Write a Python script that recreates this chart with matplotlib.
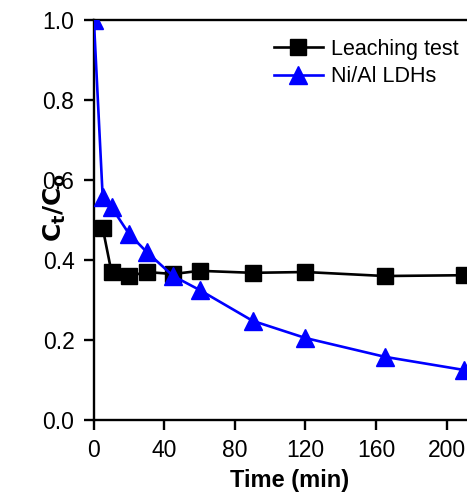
import matplotlib
matplotlib.use("Agg")
import matplotlib.pyplot as plt

plt.rcParams['font.family'] = ['Liberation Sans', 'DejaVu Sans']

time_leach = [5, 10, 20, 30, 45, 60, 90, 120, 165, 210]
ct_leach = [0.48, 0.37, 0.36, 0.37, 0.365, 0.373, 0.368, 0.37, 0.36, 0.362]

time_ldh = [0, 5, 10, 20, 30, 45, 60, 90, 120, 165, 210]
ct_ldh = [1.0, 0.558, 0.532, 0.465, 0.42, 0.36, 0.325, 0.248, 0.205, 0.158, 0.125]

xticks = [0, 40, 80, 120, 160, 200]
yticks = [0.0, 0.2, 0.4, 0.6, 0.8, 1.0]

fig = plt.figure(figsize=(4.67, 4.95), dpi=100)
ax = fig.add_axes([0.201, 0.1515, 0.799, 0.808])

ax.plot(time_leach, ct_leach, color='black', lw=1.9, marker='s', ms=11,
        label='Leaching test', zorder=3)
ax.plot(time_ldh, ct_ldh, color='#0000ff', lw=1.9, marker='^', ms=13,
        label='Ni/Al LDHs', zorder=4)

ax.set_xlim(0, 211.6)
ax.set_ylim(0, 1.0)
ax.set_xticks(xticks)
ax.set_yticks(yticks)
ax.set_yticklabels([f"{v:.1f}" for v in yticks])

for side in ['left', 'bottom', 'top']:
    ax.spines[side].set_linewidth(1.7)
ax.spines['right'].set_visible(False)
ax.tick_params(direction='out', length=7.5, width=1.7, labelsize=16.5, pad=6.5)

ax.set_xlabel('Time (min)', fontsize=17, fontweight='bold')
ax.set_ylabel(r'$\mathbf{C_t/C_o}$', fontsize=18)
ax.xaxis.set_label_coords(0.525, -0.122)
ax.yaxis.set_label_coords(-0.07, 0.53)

ax.legend(loc='upper right', bbox_to_anchor=(1.0, 0.975), frameon=False,
          fontsize=15.5, handlelength=2.3, handletextpad=0.35, labelspacing=0.3,
          borderaxespad=0.0, borderpad=0.4)

fig.savefig('out.png', dpi=100)
